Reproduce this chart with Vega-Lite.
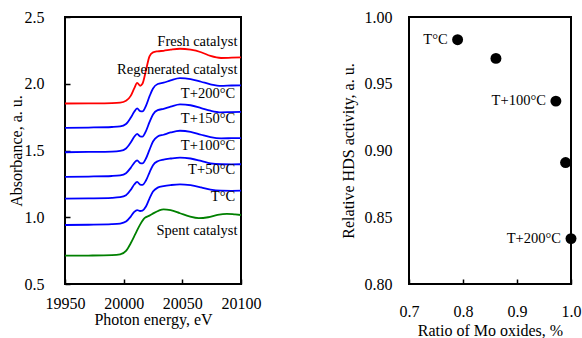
{
 "$schema": "https://vega.github.io/schema/vega-lite/v6.json",
 "background": "white",
 "padding": {"left": 7, "top": 8, "right": 0, "bottom": 0},
 "config": {
  "font": "Liberation Serif",
  "view": {"stroke": "black", "strokeWidth": 2},
  "text": {"font": "Liberation Serif"},
  "axis": {"grid": false, "domain": false, "labelFont": "Liberation Serif", "titleFont": "Liberation Serif", "labelFontSize": 16, "titleFontSize": 16, "titleFontWeight": "normal", "labelColor": "black", "titleColor": "black", "tickColor": "black", "tickWidth": 1.5}
 },
 "datasets": {
  "spectra": [
   {"sample":"fresh","energy":19950,"absorbance":1.852},{"sample":"fresh","energy":19970,"absorbance":1.853},{"sample":"fresh","energy":19990,"absorbance":1.855},{"sample":"fresh","energy":19997,"absorbance":1.858},{"sample":"fresh","energy":20002,"absorbance":1.872},{"sample":"fresh","energy":20006,"absorbance":1.909},{"sample":"fresh","energy":20009,"absorbance":1.965},{"sample":"fresh","energy":20011.5,"absorbance":2.006},{"sample":"fresh","energy":20014,"absorbance":1.985},{"sample":"fresh","energy":20016,"absorbance":2.0},{"sample":"fresh","energy":20019,"absorbance":2.1},{"sample":"fresh","energy":20022,"absorbance":2.205},{"sample":"fresh","energy":20025,"absorbance":2.235},{"sample":"fresh","energy":20029,"absorbance":2.243},{"sample":"fresh","energy":20034,"absorbance":2.247},{"sample":"fresh","energy":20040,"absorbance":2.255},{"sample":"fresh","energy":20048,"absorbance":2.262},{"sample":"fresh","energy":20057,"absorbance":2.255},{"sample":"fresh","energy":20066,"absorbance":2.236},{"sample":"fresh","energy":20074,"absorbance":2.208},{"sample":"fresh","energy":20083,"absorbance":2.193},{"sample":"fresh","energy":20092,"absorbance":2.195},{"sample":"fresh","energy":20100,"absorbance":2.197},
   {"sample":"t200","energy":19950,"absorbance":1.670},{"sample":"t200","energy":19970,"absorbance":1.672},{"sample":"t200","energy":19990,"absorbance":1.676},{"sample":"t200","energy":19997,"absorbance":1.680},{"sample":"t200","energy":20002,"absorbance":1.698},{"sample":"t200","energy":20006,"absorbance":1.745},{"sample":"t200","energy":20009,"absorbance":1.790},{"sample":"t200","energy":20011.5,"absorbance":1.815},{"sample":"t200","energy":20014,"absorbance":1.795},{"sample":"t200","energy":20016,"absorbance":1.793},{"sample":"t200","energy":20019,"absorbance":1.835},{"sample":"t200","energy":20022,"absorbance":1.905},{"sample":"t200","energy":20025,"absorbance":1.965},{"sample":"t200","energy":20029,"absorbance":1.998},{"sample":"t200","energy":20034,"absorbance":2.008},{"sample":"t200","energy":20040,"absorbance":2.025},{"sample":"t200","energy":20048,"absorbance":2.042},{"sample":"t200","energy":20057,"absorbance":2.035},{"sample":"t200","energy":20066,"absorbance":2.015},{"sample":"t200","energy":20074,"absorbance":1.996},{"sample":"t200","energy":20083,"absorbance":1.984},{"sample":"t200","energy":20092,"absorbance":1.987},{"sample":"t200","energy":20100,"absorbance":1.988},
   {"sample":"t150","energy":19950,"absorbance":1.487},{"sample":"t150","energy":19970,"absorbance":1.489},{"sample":"t150","energy":19990,"absorbance":1.492},{"sample":"t150","energy":19997,"absorbance":1.497},{"sample":"t150","energy":20002,"absorbance":1.515},{"sample":"t150","energy":20006,"absorbance":1.560},{"sample":"t150","energy":20009,"absorbance":1.603},{"sample":"t150","energy":20011.5,"absorbance":1.625},{"sample":"t150","energy":20014,"absorbance":1.606},{"sample":"t150","energy":20016,"absorbance":1.604},{"sample":"t150","energy":20019,"absorbance":1.645},{"sample":"t150","energy":20022,"absorbance":1.712},{"sample":"t150","energy":20025,"absorbance":1.770},{"sample":"t150","energy":20029,"absorbance":1.802},{"sample":"t150","energy":20034,"absorbance":1.812},{"sample":"t150","energy":20040,"absorbance":1.828},{"sample":"t150","energy":20048,"absorbance":1.846},{"sample":"t150","energy":20057,"absorbance":1.839},{"sample":"t150","energy":20066,"absorbance":1.818},{"sample":"t150","energy":20074,"absorbance":1.798},{"sample":"t150","energy":20083,"absorbance":1.786},{"sample":"t150","energy":20092,"absorbance":1.788},{"sample":"t150","energy":20100,"absorbance":1.789},
   {"sample":"t100","energy":19950,"absorbance":1.303},{"sample":"t100","energy":19970,"absorbance":1.305},{"sample":"t100","energy":19990,"absorbance":1.309},{"sample":"t100","energy":19997,"absorbance":1.314},{"sample":"t100","energy":20002,"absorbance":1.330},{"sample":"t100","energy":20006,"absorbance":1.370},{"sample":"t100","energy":20009,"absorbance":1.408},{"sample":"t100","energy":20011.5,"absorbance":1.426},{"sample":"t100","energy":20014,"absorbance":1.406},{"sample":"t100","energy":20016,"absorbance":1.403},{"sample":"t100","energy":20019,"absorbance":1.440},{"sample":"t100","energy":20022,"absorbance":1.505},{"sample":"t100","energy":20025,"absorbance":1.567},{"sample":"t100","energy":20029,"absorbance":1.605},{"sample":"t100","energy":20034,"absorbance":1.618},{"sample":"t100","energy":20040,"absorbance":1.635},{"sample":"t100","energy":20048,"absorbance":1.648},{"sample":"t100","energy":20057,"absorbance":1.640},{"sample":"t100","energy":20066,"absorbance":1.618},{"sample":"t100","energy":20074,"absorbance":1.600},{"sample":"t100","energy":20083,"absorbance":1.591},{"sample":"t100","energy":20092,"absorbance":1.592},{"sample":"t100","energy":20100,"absorbance":1.593},
   {"sample":"t50","energy":19950,"absorbance":1.139},{"sample":"t50","energy":19970,"absorbance":1.141},{"sample":"t50","energy":19990,"absorbance":1.145},{"sample":"t50","energy":19997,"absorbance":1.150},{"sample":"t50","energy":20002,"absorbance":1.165},{"sample":"t50","energy":20006,"absorbance":1.205},{"sample":"t50","energy":20009,"absorbance":1.245},{"sample":"t50","energy":20011.5,"absorbance":1.265},{"sample":"t50","energy":20014,"absorbance":1.245},{"sample":"t50","energy":20016,"absorbance":1.242},{"sample":"t50","energy":20019,"absorbance":1.275},{"sample":"t50","energy":20022,"absorbance":1.335},{"sample":"t50","energy":20025,"absorbance":1.390},{"sample":"t50","energy":20029,"absorbance":1.420},{"sample":"t50","energy":20034,"absorbance":1.432},{"sample":"t50","energy":20040,"absorbance":1.440},{"sample":"t50","energy":20048,"absorbance":1.447},{"sample":"t50","energy":20057,"absorbance":1.440},{"sample":"t50","energy":20066,"absorbance":1.422},{"sample":"t50","energy":20074,"absorbance":1.404},{"sample":"t50","energy":20083,"absorbance":1.397},{"sample":"t50","energy":20092,"absorbance":1.396},{"sample":"t50","energy":20100,"absorbance":1.397},
   {"sample":"t0","energy":19950,"absorbance":0.942},{"sample":"t0","energy":19970,"absorbance":0.944},{"sample":"t0","energy":19990,"absorbance":0.948},{"sample":"t0","energy":19997,"absorbance":0.953},{"sample":"t0","energy":20002,"absorbance":0.968},{"sample":"t0","energy":20006,"absorbance":1.005},{"sample":"t0","energy":20009,"absorbance":1.040},{"sample":"t0","energy":20011.5,"absorbance":1.054},{"sample":"t0","energy":20014,"absorbance":1.047},{"sample":"t0","energy":20016,"absorbance":1.050},{"sample":"t0","energy":20019,"absorbance":1.080},{"sample":"t0","energy":20022,"absorbance":1.140},{"sample":"t0","energy":20025,"absorbance":1.192},{"sample":"t0","energy":20029,"absorbance":1.222},{"sample":"t0","energy":20034,"absorbance":1.233},{"sample":"t0","energy":20040,"absorbance":1.241},{"sample":"t0","energy":20048,"absorbance":1.247},{"sample":"t0","energy":20057,"absorbance":1.240},{"sample":"t0","energy":20066,"absorbance":1.224},{"sample":"t0","energy":20074,"absorbance":1.207},{"sample":"t0","energy":20083,"absorbance":1.199},{"sample":"t0","energy":20092,"absorbance":1.198},{"sample":"t0","energy":20100,"absorbance":1.199},
   {"sample":"spent","energy":19950,"absorbance":0.712},{"sample":"spent","energy":19970,"absorbance":0.713},{"sample":"spent","energy":19990,"absorbance":0.716},{"sample":"spent","energy":19997,"absorbance":0.722},{"sample":"spent","energy":20002,"absorbance":0.748},{"sample":"spent","energy":20006,"absorbance":0.805},{"sample":"spent","energy":20010,"absorbance":0.875},{"sample":"spent","energy":20014,"absorbance":0.945},{"sample":"spent","energy":20018,"absorbance":0.995},{"sample":"spent","energy":20022,"absorbance":1.012},{"sample":"spent","energy":20026,"absorbance":1.033},{"sample":"spent","energy":20030,"absorbance":1.050},{"sample":"spent","energy":20034,"absorbance":1.059},{"sample":"spent","energy":20040,"absorbance":1.053},{"sample":"spent","energy":20048,"absorbance":1.030},{"sample":"spent","energy":20056,"absorbance":1.006},{"sample":"spent","energy":20064,"absorbance":0.993},{"sample":"spent","energy":20072,"absorbance":1.000},{"sample":"spent","energy":20080,"absorbance":1.018},{"sample":"spent","energy":20088,"absorbance":1.026},{"sample":"spent","energy":20095,"absorbance":1.021},{"sample":"spent","energy":20100,"absorbance":1.017}
  ],
  "curvelabels": [
   {"label":"Fresh catalyst","energy":20097,"absorbance":2.312},
   {"label":"Regenerated catalyst","energy":20097,"absorbance":2.100},
   {"label":"T+200°C","energy":20095,"absorbance":1.926},
   {"label":"T+150°C","energy":20095,"absorbance":1.736},
   {"label":"T+100°C","energy":20095,"absorbance":1.532},
   {"label":"T+50°C","energy":20095,"absorbance":1.351},
   {"label":"T°C","energy":20095,"absorbance":1.149},
   {"label":"Spent catalyst","energy":20097,"absorbance":0.898}
  ],
  "activity": [
   {"ratio":0.790,"activity":0.983,"label":"T°C"},
   {"ratio":0.861,"activity":0.969,"label":""},
   {"ratio":0.972,"activity":0.937,"label":"T+100°C"},
   {"ratio":0.990,"activity":0.891,"label":""},
   {"ratio":1.000,"activity":0.834,"label":"T+200°C"}
  ]
 },
 "spacing": 77,
 "hconcat": [
  {
   "width": 176, "height": 267,
   "layer": [
    {
     "data": {"name": "spectra"},
     "mark": {"type": "line", "interpolate": "monotone", "strokeWidth": 1.8},
     "encoding": {
      "x": {"field": "energy", "type": "quantitative", "scale": {"domain": [19950, 20100], "nice": false, "zero": false},
            "axis": {"title": "Photon energy, eV", "labelFont": "Liberation Serif", "titleFont": "Liberation Serif", "values": [19950, 20000, 20050, 20100], "format": "d", "tickSize": -5, "labelPadding": 16, "titlePadding": 0, "labelFlush": false, "labelOverlap": false}},
      "y": {"field": "absorbance", "type": "quantitative", "scale": {"domain": [0.5, 2.5], "nice": false, "zero": false},
            "axis": {"title": "Absorbance, a. u.", "labelFont": "Liberation Serif", "titleFont": "Liberation Serif", "values": [0.5, 1, 1.5, 2, 2.5], "format": ".1f", "tickSize": -5, "labelPadding": 26, "titlePadding": 0, "labelFlush": false}},
      "color": {"field": "sample", "type": "nominal",
                "scale": {"domain": ["fresh", "t200", "t150", "t100", "t50", "t0", "spent"], "range": ["#ff0000", "#0000ff", "#0000ff", "#0000ff", "#0000ff", "#0000ff", "#008000"]},
                "legend": null}
     }
    },
    {
     "data": {"name": "curvelabels"},
     "mark": {"type": "text", "align": "right", "baseline": "middle", "fontSize": 14.5, "font": "Liberation Serif", "color": "black"},
     "encoding": {
      "x": {"field": "energy", "type": "quantitative"},
      "y": {"field": "absorbance", "type": "quantitative"},
      "text": {"field": "label"}
     }
    }
   ]
  },
  {
   "width": 162, "height": 267,
   "data": {"name": "activity"},
   "layer": [
    {
     "mark": {"type": "point", "filled": true, "size": 120, "color": "black", "opacity": 1},
     "encoding": {
      "x": {"field": "ratio", "type": "quantitative", "scale": {"domain": [0.7, 1.0], "nice": false, "zero": false},
            "axis": {"title": "Ratio of Mo oxides, %", "labelFont": "Liberation Serif", "titleFont": "Liberation Serif", "values": [0.7, 0.75, 0.8, 0.85, 0.9, 0.95, 1.0], "labelExpr": "round(datum.value*100) % 10 == 0 ? format(datum.value, '.1f') : ''", "tickSize": -5, "labelPadding": 24, "titlePadding": 3, "labelFlush": false, "labelOverlap": false}},
      "y": {"field": "activity", "type": "quantitative", "scale": {"domain": [0.8, 1.0], "nice": false, "zero": false},
            "axis": {"title": "Relative HDS activity, a. u.", "labelFont": "Liberation Serif", "titleFont": "Liberation Serif", "values": [0.8, 0.85, 0.9, 0.95, 1.0], "format": ".2f", "ticks": false, "labelPadding": 17, "titlePadding": 8, "labelFlush": false}}
     }
    },
    {
     "transform": [{"filter": "datum.label != ''"}],
     "mark": {"type": "text", "align": "right", "baseline": "middle", "dx": -10, "fontSize": 14.5, "font": "Liberation Serif", "color": "black"},
     "encoding": {
      "x": {"field": "ratio", "type": "quantitative"},
      "y": {"field": "activity", "type": "quantitative"},
      "text": {"field": "label"}
     }
    }
   ]
  }
 ]
}
